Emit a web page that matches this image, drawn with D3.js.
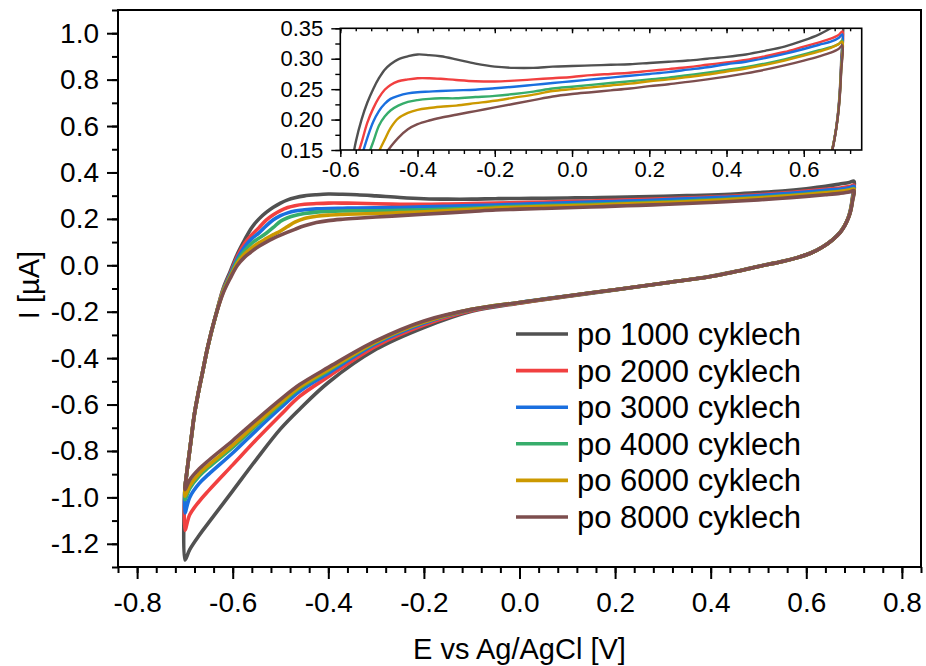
<!DOCTYPE html>
<html><head><meta charset="utf-8">
<script src="https://cdn.jsdelivr.net/npm/d3@7"></script>
<style>
body{margin:0;background:#fff}
text{font-family:"Liberation Sans",Arial,sans-serif;fill:#000}
</style>
</head><body>
<svg id="chart" width="926" height="666"></svg>
<script>
// ---------------- DATA ----------------
const seriesNames = ["po 1000 cyklech","po 2000 cyklech","po 3000 cyklech","po 4000 cyklech","po 6000 cyklech","po 8000 cyklech"];
const seriesColors = ["#515151","#F14040","#1A6FDF","#37AD6B","#CC9900","#7D4E4E"];

// forward (anodic) scan potentials, V
const eForward = [-0.700,-0.694,-0.687,-0.680,-0.672,-0.664,-0.652,-0.636,-0.620,-0.605,-0.590,-0.575,-0.560,-0.545,-0.530,-0.515,-0.500,-0.485,-0.470,-0.450,-0.425,-0.400,-0.370,-0.340,-0.300,-0.250,-0.200,-0.150,-0.100,-0.050,0.000,0.050,0.100,0.150,0.200,0.250,0.300,0.350,0.400,0.450,0.500,0.550,0.600,0.640,0.670,0.690,0.700];
const iForward1000 = [-0.96,-0.86,-0.75,-0.64,-0.55,-0.47,-0.35,-0.22,-0.10,-0.025,0.05,0.11,0.163,0.200,0.228,0.250,0.268,0.282,0.291,0.299,0.304,0.307,0.306,0.304,0.299,0.292,0.287,0.285,0.285,0.287,0.288,0.289,0.290,0.291,0.293,0.295,0.297,0.300,0.303,0.307,0.313,0.320,0.330,0.340,0.350,0.357,0.362];
const iForward2000 = [-0.96,-0.86,-0.75,-0.64,-0.55,-0.47,-0.35,-0.22,-0.105,-0.035,0.04,0.095,0.132,0.162,0.195,0.218,0.236,0.249,0.257,0.263,0.266,0.268,0.268,0.267,0.265,0.263,0.2625,0.264,0.266,0.268,0.270,0.273,0.275,0.277,0.280,0.283,0.286,0.290,0.294,0.298,0.304,0.311,0.320,0.327,0.333,0.339,0.345];
const iForward3000 = [-0.96,-0.86,-0.75,-0.64,-0.55,-0.47,-0.35,-0.22,-0.11,-0.04,0.03,0.08,0.115,0.14,0.17,0.196,0.214,0.226,0.234,0.239,0.243,0.245,0.246,0.247,0.248,0.249,0.2515,0.254,0.257,0.260,0.263,0.266,0.269,0.272,0.275,0.278,0.282,0.286,0.291,0.295,0.301,0.308,0.316,0.323,0.328,0.334,0.340];
const iForward4000 = [-0.96,-0.86,-0.75,-0.64,-0.55,-0.47,-0.35,-0.22,-0.11,-0.045,0.02,0.063,0.095,0.117,0.138,0.163,0.19,0.205,0.215,0.223,0.229,0.232,0.234,0.235,0.235,0.237,0.239,0.242,0.246,0.251,0.254,0.257,0.260,0.263,0.266,0.269,0.273,0.277,0.2816,0.286,0.292,0.299,0.307,0.314,0.319,0.324,0.330];
const iForward6000 = [-0.96,-0.86,-0.75,-0.64,-0.55,-0.47,-0.35,-0.22,-0.115,-0.05,0.01,0.05,0.075,0.097,0.115,0.132,0.148,0.167,0.186,0.202,0.211,0.216,0.219,0.221,0.223,0.227,0.231,0.236,0.241,0.247,0.250,0.253,0.256,0.259,0.263,0.266,0.270,0.274,0.279,0.284,0.290,0.297,0.305,0.312,0.318,0.324,0.328];
const iForward8000 = [-0.955,-0.86,-0.75,-0.64,-0.55,-0.47,-0.35,-0.22,-0.12,-0.055,0.0,0.035,0.06,0.082,0.10,0.116,0.13,0.143,0.155,0.170,0.184,0.1925,0.1985,0.203,0.208,0.214,0.220,0.226,0.232,0.238,0.242,0.245,0.248,0.251,0.255,0.258,0.262,0.266,0.2706,0.276,0.282,0.289,0.297,0.304,0.310,0.316,0.322];

// reverse (cathodic) scan potentials, V
const eReverse = [0.700,0.697,0.693,0.688,0.680,0.670,0.655,0.635,0.610,0.580,0.550,0.500,0.450,0.400,0.300,0.200,0.100,0.000,-0.100,-0.200,-0.300,-0.400,-0.460,-0.500,-0.550,-0.600,-0.650,-0.670,-0.690,-0.700];
const iReverse1000 = [0.362,0.30,0.245,0.207,0.171,0.141,0.111,0.081,0.054,0.033,0.017,-0.004,-0.027,-0.047,-0.077,-0.106,-0.134,-0.163,-0.198,-0.268,-0.362,-0.505,-0.620,-0.705,-0.835,-0.972,-1.108,-1.163,-1.225,-1.270];
const iReverse2000 = [0.345,0.29,0.24,0.205,0.170,0.140,0.110,0.080,0.053,0.032,0.016,-0.005,-0.028,-0.048,-0.077,-0.105,-0.133,-0.162,-0.195,-0.258,-0.348,-0.480,-0.565,-0.645,-0.750,-0.860,-0.970,-1.017,-1.075,-1.142];
const iReverse3000 = [0.340,0.29,0.24,0.205,0.170,0.140,0.110,0.080,0.053,0.032,0.016,-0.005,-0.028,-0.048,-0.077,-0.105,-0.132,-0.160,-0.192,-0.250,-0.338,-0.465,-0.543,-0.615,-0.710,-0.809,-0.900,-0.940,-1.000,-1.067];
const iReverse4000 = [0.330,0.285,0.238,0.204,0.170,0.140,0.110,0.080,0.053,0.032,0.016,-0.005,-0.028,-0.048,-0.077,-0.105,-0.132,-0.160,-0.190,-0.245,-0.332,-0.455,-0.530,-0.598,-0.690,-0.785,-0.870,-0.908,-0.962,-1.010];
const iReverse6000 = [0.328,0.285,0.238,0.204,0.170,0.140,0.110,0.080,0.053,0.032,0.016,-0.005,-0.028,-0.048,-0.077,-0.105,-0.132,-0.160,-0.190,-0.245,-0.330,-0.450,-0.525,-0.592,-0.682,-0.775,-0.860,-0.897,-0.950,-0.995];
const iReverse8000 = [0.322,0.28,0.235,0.203,0.169,0.139,0.110,0.080,0.053,0.032,0.016,-0.005,-0.028,-0.048,-0.077,-0.105,-0.132,-0.160,-0.190,-0.240,-0.325,-0.440,-0.514,-0.578,-0.665,-0.755,-0.840,-0.877,-0.925,-0.967];

const iForwardAll = [iForward1000,iForward2000,iForward3000,iForward4000,iForward6000,iForward8000];
const iReverseAll = [iReverse1000,iReverse2000,iReverse3000,iReverse4000,iReverse6000,iReverse8000];

// ticks
const xTickValues = [-0.8,-0.6,-0.4,-0.2,0.0,0.2,0.4,0.6,0.8];
const xTickLabels = ["-0.8","-0.6","-0.4","-0.2","0.0","0.2","0.4","0.6","0.8"];
const yTickValues = [-1.2,-1.0,-0.8,-0.6,-0.4,-0.2,0.0,0.2,0.4,0.6,0.8,1.0];
const yTickLabels = ["-1.2","-1.0","-0.8","-0.6","-0.4","-0.2","0.0","0.2","0.4","0.6","0.8","1.0"];
const insetXTickValues = [-0.6,-0.4,-0.2,0.0,0.2,0.4,0.6];
const insetXTickLabels = ["-0.6","-0.4","-0.2","0.0","0.2","0.4","0.6"];
const insetYTickValues = [0.15,0.20,0.25,0.30,0.35];
const insetYTickLabels = ["0.15","0.20","0.25","0.30","0.35"];

const xTitle = "E vs Ag/AgCl [V]";
const yTitle = "I [µA]";

// ---------------- DRAW ----------------
const svg = d3.select("#chart");
const FONT = '"Liberation Sans",Arial,sans-serif';

function loop(k){
  const pts = eForward.map((e,j)=>[e,iForwardAll[k][j]]);
  eReverse.forEach((e,j)=>{ if(j>0) pts.push([e,iReverseAll[k][j]]); });
  pts.push(pts[0]);
  return pts;
}

// main plot
const x = d3.scaleLinear().domain([-0.84,0.84]).range([118,921]);
const y = d3.scaleLinear().domain([-1.3,1.1]).range([567,10]);

const minorX = d3.range(0,43).map(i=>+(-0.84+i*0.04).toFixed(2));
const minorY = d3.range(0,25).map(i=>+(-1.3+i*0.1).toFixed(1));

const gxMinor = svg.append("g").attr("transform","translate(0,567)")
  .call(d3.axisBottom(x).tickValues(minorX).tickSize(6).tickFormat(""));
const gx = svg.append("g").attr("transform","translate(0,567)")
  .call(d3.axisBottom(x).tickValues(xTickValues).tickSize(12).tickPadding(13).tickFormat((d,i)=>xTickLabels[i]));
const gyMinor = svg.append("g").attr("transform","translate(118,0)")
  .call(d3.axisLeft(y).tickValues(minorY).tickSize(6).tickFormat(""));
const gy = svg.append("g").attr("transform","translate(118,0)")
  .call(d3.axisLeft(y).tickValues(yTickValues).tickSize(11).tickPadding(8).tickFormat((d,i)=>yTickLabels[i]));
[gxMinor,gx,gyMinor,gy].forEach(g=>{
  g.select(".domain").remove();
  g.selectAll("line").attr("stroke","#000").attr("stroke-width",2);
  g.selectAll("text").style("font-family",FONT).style("font-size","28px").attr("fill","#000");
});

const line = d3.line().x(d=>x(d[0])).y(d=>y(d[1])).curve(d3.curveCatmullRom.alpha(0.5));
svg.append("g").selectAll("path").data(seriesNames).join("path")
  .attr("d",(d,k)=>line(loop(k)))
  .attr("fill","none").attr("stroke",(d,k)=>seriesColors[k])
  .attr("stroke-width",3.6).attr("stroke-linejoin","round");

svg.append("rect").attr("x",118).attr("y",10).attr("width",803).attr("height",557)
  .attr("fill","none").attr("stroke","#000").attr("stroke-width",2);

svg.append("text").attr("x",519.5).attr("y",659).attr("text-anchor","middle")
  .style("font-size","29px").text(xTitle);
svg.append("text").attr("transform","translate(39,285) rotate(-90)").attr("text-anchor","middle")
  .style("font-size","29px").text(yTitle);

// legend
const legend = svg.append("g");
seriesNames.forEach((name,k)=>{
  const ly = 334 + k*36.6;
  legend.append("line").attr("x1",516).attr("x2",568).attr("y1",ly).attr("y2",ly)
    .attr("stroke",seriesColors[k]).attr("stroke-width",3.6);
  legend.append("text").attr("x",577).attr("y",ly+11).style("font-size","31px").text(name);
});

// inset
const xi = d3.scaleLinear().domain([-0.6,0.75]).range([340.3,861.7]);
const yi = d3.scaleLinear().domain([0.15,0.35]).range([150,28.3]);
const inset = svg.append("g");
inset.append("rect").attr("x",340.3).attr("y",28.3).attr("width",521.4).attr("height",121.7).attr("fill","#fff");
inset.append("clipPath").attr("id","insetClip").append("rect")
  .attr("x",340.3).attr("y",28.3).attr("width",521.4).attr("height",121.7);
const lineI = d3.line().x(d=>xi(d[0])).y(d=>yi(d[1])).curve(d3.curveCatmullRom.alpha(0.5));
inset.append("g").attr("clip-path","url(#insetClip)").selectAll("path").data(seriesNames).join("path")
  .attr("d",(d,k)=>lineI(loop(k)))
  .attr("fill","none").attr("stroke",(d,k)=>seriesColors[k])
  .attr("stroke-width",2.4).attr("stroke-linejoin","round");

const minorXi = d3.range(0,34).map(i=>+(-0.6+i*0.04).toFixed(2));
const minorYi = d3.range(0,9).map(i=>+(0.15+i*0.025).toFixed(3));
const ig = [];
ig.push(inset.append("g").attr("transform","translate(0,150)")
  .call(d3.axisBottom(xi).tickValues(minorXi).tickSize(4).tickFormat("")));
ig.push(inset.append("g").attr("transform","translate(0,150)")
  .call(d3.axisBottom(xi).tickValues(insetXTickValues).tickSize(7).tickPadding(4).tickFormat((d,i)=>insetXTickLabels[i])));
ig.push(inset.append("g").attr("transform","translate(0,28.3)")
  .call(d3.axisBottom(xi).tickValues(minorXi).tickSize(3).tickFormat("")));
ig.push(inset.append("g").attr("transform","translate(0,28.3)")
  .call(d3.axisBottom(xi).tickValues(insetXTickValues).tickSize(5).tickFormat("")));
ig.push(inset.append("g").attr("transform","translate(340.3,0)")
  .call(d3.axisLeft(yi).tickValues(minorYi).tickSize(5).tickFormat("")));
ig.push(inset.append("g").attr("transform","translate(340.3,0)")
  .call(d3.axisLeft(yi).tickValues(insetYTickValues).tickSize(9).tickPadding(8).tickFormat((d,i)=>insetYTickLabels[i])));
ig.forEach(g=>{
  g.select(".domain").remove();
  g.selectAll("line").attr("stroke","#000").attr("stroke-width",1.4);
  g.selectAll("text").style("font-family",FONT).style("font-size","22px").attr("fill","#000");
});
inset.append("rect").attr("x",340.3).attr("y",28.3).attr("width",521.4).attr("height",121.7)
  .attr("fill","none").attr("stroke","#000").attr("stroke-width",1.6);
</script>
</body></html>
